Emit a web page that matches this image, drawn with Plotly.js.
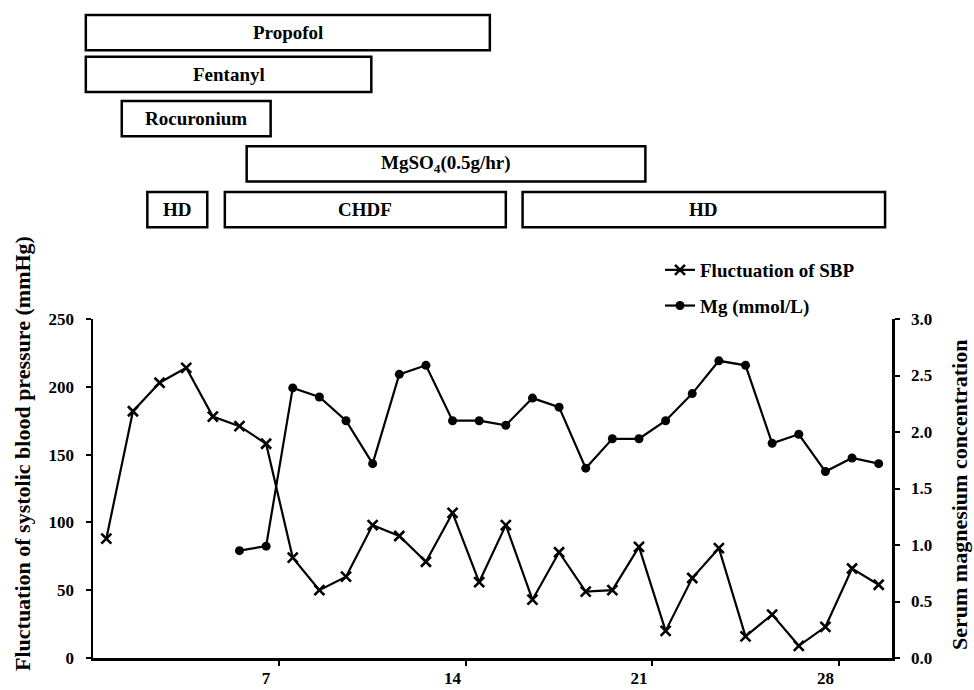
<!DOCTYPE html>
<html>
<head>
<meta charset="utf-8">
<script src="https://cdn.plot.ly/plotly-3.0.1.min.js"></script>
<style>
  html, body { margin: 0; padding: 0; background: #fff; }
  #chart { width: 974px; height: 690px; }
</style>
</head>
<body>
<div id="chart"></div>
<script>
// ---- data ----
const days = [1,2,3,4,5,6,7,8,9,10,11,12,13,14,15,16,17,18,19,20,21,22,23,24,25,26,27,28,29,30];
const sbpFluctuation = [88,182,203,214,178,171,158,74,50,60,98,90,71,107,56,98,43,78,49,50,82,20,59,81,16,32,9,23,66,54];
const mgDays = [6,7,8,9,10,11,12,13,14,15,16,17,18,19,20,21,22,23,24,25,26,27,28,29,30];
const mgValues = [0.95,0.99,2.39,2.31,2.10,1.72,2.51,2.59,2.10,2.10,2.06,2.30,2.22,1.68,1.94,1.94,2.10,2.34,2.63,2.59,1.90,1.98,1.65,1.77,1.72];
const xTickVals = [7,14,21,28];
const xTickText = ['7','14','21','28'];

// treatment timeline (in days)
const treatments = ['Propofol','Fentanyl','Rocuronium','MgSO<sub>4</sub>(0.5g/hr)','HD','CHDF','HD'];
const startDay = [0.23,0.23,1.58,6.27,2.54,5.45,16.63];
const endDay = [15.40,10.95,7.17,21.24,4.79,16.00,30.24];
const rowIndex = [0,1,2,3,4,4,4];

// ---- layout helpers ----
const W = 974, H = 690;
const M = {l: 93, r: 82, t: 319, b: 32};
const X_RANGE = [0.5, 30.5];
const plotH = H - M.t - M.b;
const plotW = W - M.l - M.r;
const rowTopPx = [15, 56.7, 101, 146.3, 192];
const rowHeightPx = 35.3;
const dayToPaper = d => (d - X_RANGE[0]) / (X_RANGE[1] - X_RANGE[0]);
const pxToPaperY = p => (H - M.b - p) / plotH;
const pxToPaperX = p => (p - M.l) / plotW;

const FONT = 'Liberation Serif, Times New Roman, serif';

const shapes = [];
const annotations = [];
treatments.forEach((name, i) => {
  const top = rowTopPx[rowIndex[i]];
  shapes.push({
    type: 'rect', xref: 'paper', yref: 'paper',
    x0: dayToPaper(startDay[i]), x1: dayToPaper(endDay[i]),
    y0: pxToPaperY(top + rowHeightPx), y1: pxToPaperY(top),
    line: {color: '#000', width: 2.5}, fillcolor: 'rgba(0,0,0,0)'
  });
  annotations.push({
    xref: 'paper', yref: 'paper',
    x: dayToPaper((startDay[i] + endDay[i]) / 2),
    y: pxToPaperY(top + rowHeightPx / 2),
    text: name, showarrow: false, xanchor: 'center', yanchor: 'middle',
    font: {family: FONT, size: 19, color: '#000', weight: 'bold'}
  });
});

annotations.push({
  xref: 'paper', yref: 'paper', x: pxToPaperX(22), y: pxToPaperY(454),
  text: 'Fluctuation of systolic blood pressure (mmHg)', textangle: -90,
  showarrow: false, xanchor: 'center', yanchor: 'middle',
  font: {family: FONT, size: 22, color: '#000', weight: 'bold'}
});
annotations.push({
  xref: 'paper', yref: 'paper', x: pxToPaperX(959), y: pxToPaperY(495),
  text: 'Serum magnesium concentration', textangle: -90,
  showarrow: false, xanchor: 'center', yanchor: 'middle',
  font: {family: FONT, size: 22, color: '#000', weight: 'bold'}
});

const traces = [
  {
    x: days, y: sbpFluctuation, name: 'Fluctuation of SBP', type: 'scatter', mode: 'lines+markers',
    line: {color: '#000', width: 2.2},
    marker: {symbol: 'x-thin', size: 10, color: '#000', line: {color: '#000', width: 2.6}},
    legendgroup: 'a', cliponaxis: false
  },
  {
    x: mgDays, y: mgValues, name: 'Mg (mmol/L)', type: 'scatter', mode: 'lines+markers', yaxis: 'y2',
    line: {color: '#000', width: 2.2},
    marker: {symbol: 'circle', size: 9, color: '#000'},
    legendgroup: 'b', cliponaxis: false
  }
];

const axisFont = {family: FONT, size: 17, color: '#000', weight: 'bold'};
const layout = {
  width: W, height: H,
  margin: M,
  paper_bgcolor: '#fff', plot_bgcolor: '#fff',
  font: {family: FONT, color: '#000', weight: 'bold'},
  showlegend: true,
  legend: {
    x: pxToPaperX(660), y: pxToPaperY(251), xanchor: 'left', yanchor: 'top',
    bgcolor: 'rgba(0,0,0,0)', traceorder: 'grouped', tracegroupgap: 8,
    font: {family: FONT, size: 19, color: '#000', weight: 'bold'},
    itemwidth: 30
  },
  xaxis: {
    range: X_RANGE, showgrid: false, zeroline: false,
    showline: true, linecolor: '#000', linewidth: 2.5,
    tickmode: 'array', tickvals: xTickVals, ticktext: xTickText,
    ticks: '', tickfont: axisFont, ticklabelstandoff: 3,
    minor: {tickmode: 'array', tickvals: xTickVals.map(v => v + 0.5), ticks: 'outside', ticklen: 5, tickwidth: 2, tickcolor: '#000', showgrid: false}
  },
  yaxis: {
    range: [0, 250], dtick: 50, showgrid: false, zeroline: false,
    showline: true, linecolor: '#000', linewidth: 2.5,
    ticks: 'outside', ticklen: 5, tickwidth: 2, tickcolor: '#000',
    tickfont: axisFont, ticklabelstandoff: 8
  },
  yaxis2: {
    range: [0, 3], dtick: 0.5, tickformat: '.1f', overlaying: 'y', side: 'right',
    showgrid: false, zeroline: false,
    showline: true, linecolor: '#000', linewidth: 2.5,
    ticks: 'outside', ticklen: 5, tickwidth: 2, tickcolor: '#000',
    tickfont: axisFont, ticklabelstandoff: 8
  },
  shapes: shapes,
  annotations: annotations
};

Plotly.newPlot('chart', traces, layout, {displayModeBar: false, staticPlot: true});
</script>
</body>
</html>
